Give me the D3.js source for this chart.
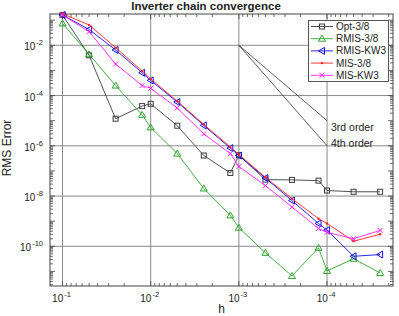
<!DOCTYPE html>
<html>
<head>
<meta charset="utf-8">
<script src="https://cdn.jsdelivr.net/npm/d3@7"></script>
<style>
  body { margin: 0; background: #fff; }
  text { font-family: "Liberation Sans", Arial, sans-serif; fill: #222; }
</style>
</head>
<body>
<svg id="chart" width="399" height="316"></svg>
<script>
// step sizes
const hVals = [0.1, 0.05, 0.025, 0.0125, 0.01, 0.005, 0.0025, 0.00125, 0.001, 5e-4, 2.5e-4, 1.25e-4, 1e-4, 5e-5, 2.5e-5];

// RMS errors per method
const optErr   = [1.6e-1, 4.0e-3, 1.2e-5, 3.8e-5, 4.7e-5, 6.3e-6, 4.1e-7, 8.3e-8, 4.2e-7, 4.5e-8, 4.4e-8, 4.1e-8, 1.66e-8, 1.48e-8, 1.48e-8];
const rmis38   = [7.4e-2, 4.4e-3, 2.5e-4, 1.7e-5, 5.4e-6, 4.9e-7, 2.0e-8, 1.7e-9, 5.5e-10, 5.5e-11, 6.6e-12, 8.7e-11, 1.05e-11, 3.2e-11, 8.7e-12];
const rmisKW3  = [1.6e-1, 4.3e-2, 6.5e-3, 8.1e-4, 4.0e-4, 5.5e-5, 6.5e-6, 8.1e-7, 4.1e-7, 5.2e-8, 6.6e-9, 8.1e-10, 4.4e-10, 4.0e-11, 4.7e-11];
const mis38    = [1.8e-1, 6.5e-2, 8.1e-3, 9.5e-4, 4.6e-4, 6.0e-5, 7.1e-6, 8.9e-7, 4.5e-7, 5.6e-8, 7.9e-9, 1.26e-9, 8.1e-10, 1.6e-10, 3.0e-10];
const misKW3   = [1.6e-1, 3.5e-2, 1.8e-3, 2.5e-4, 1.95e-4, 3.2e-5, 3.0e-6, 4.9e-7, 1.5e-7, 2.6e-8, 3.7e-9, 5.1e-10, 3.6e-10, 2.0e-10, 4.3e-10];

const seriesNames = ["Opt-3/8", "RMIS-3/8", "RMIS-KW3", "MIS-3/8", "MIS-KW3"];
const xTickVals = [1e-1, 1e-2, 1e-3, 1e-4];
const yTickVals = [1e-2, 1e-4, 1e-6, 1e-8, 1e-10];

// reference slopes, anchored at h=1e-3, err=1e-2
const orderLabels = ["3rd order", "4th order"];
const orderPowers = [3, 4];

const svg = d3.select("#chart");
const pLeft = 50, pRight = 393, pTop = 14, pBottom = 286;

const x = d3.scaleLog()
    .domain([Math.pow(10, -0.858), Math.pow(10, -4.748)])
    .range([pLeft, pRight]);
const y = d3.scaleLog()
    .domain([Math.pow(10, -11.58), Math.pow(10, -0.754)])
    .range([pBottom, pTop]);

// grid
svg.append("g").selectAll("line").data(xTickVals).join("line")
    .attr("x1", d => x(d)).attr("x2", d => x(d))
    .attr("y1", pTop).attr("y2", pBottom)
    .attr("stroke", "#8a8a8a").attr("stroke-width", 1);
svg.append("g").selectAll("line").data(yTickVals).join("line")
    .attr("x1", pLeft).attr("x2", pRight)
    .attr("y1", d => y(d)).attr("y2", d => y(d))
    .attr("stroke", "#8a8a8a").attr("stroke-width", 1);

// minor ticks, all four sides, pointing in
function logTicks(scale) {
  const [a, b] = d3.extent(scale.domain());
  const out = [];
  for (let e = Math.floor(Math.log10(a)); e <= Math.ceil(Math.log10(b)); e++) {
    for (let k = 1; k < 10; k++) {
      const v = k * Math.pow(10, e);
      if (v >= a && v <= b) out.push({v: v, major: k === 1});
    }
  }
  return out;
}
const tg = svg.append("g").attr("stroke", "#444").attr("stroke-width", 0.8);
logTicks(x).forEach(t => {
  const len = t.major ? 5 : 3;
  tg.append("line").attr("x1", x(t.v)).attr("x2", x(t.v)).attr("y1", pBottom).attr("y2", pBottom - len);
  tg.append("line").attr("x1", x(t.v)).attr("x2", x(t.v)).attr("y1", pTop).attr("y2", pTop + len);
});
logTicks(y).forEach(t => {
  const len = t.major ? 5 : 3;
  tg.append("line").attr("y1", y(t.v)).attr("y2", y(t.v)).attr("x1", pLeft).attr("x2", pLeft + len);
  tg.append("line").attr("y1", y(t.v)).attr("y2", y(t.v)).attr("x1", pRight).attr("x2", pRight - len);
});

// frame
svg.append("rect")
    .attr("x", pLeft).attr("y", pTop)
    .attr("width", pRight - pLeft).attr("height", pBottom - pTop)
    .attr("fill", "none").attr("stroke", "#444").attr("stroke-width", 1);

// tick labels
const xl = svg.append("g").selectAll("text").data(xTickVals).join("text")
    .attr("x", d => x(d) - 1).attr("y", 302)
    .attr("text-anchor", "middle").attr("font-size", 10);
xl.append("tspan").text("10");
xl.append("tspan").attr("dx", 1).attr("dy", -5).attr("font-size", 7.5)
    .text(d => Math.round(Math.log10(d)));

const yl = svg.append("g").selectAll("text").data(yTickVals).join("text")
    .attr("x", 43).attr("y", d => y(d) + 5)
    .attr("text-anchor", "end").attr("font-size", 10);
yl.append("tspan").text("10");
yl.append("tspan").attr("dx", 1).attr("dy", -5).attr("font-size", 7.5)
    .text(d => Math.round(Math.log10(d)));

// labels
svg.append("text").attr("x", 206).attr("y", 10)
    .attr("text-anchor", "middle").attr("font-size", 11.5).attr("font-weight", "bold")
    .text("Inverter chain convergence");
svg.append("text").attr("x", (pLeft + pRight) / 2).attr("y", 313)
    .attr("text-anchor", "middle").attr("font-size", 12).text("h");
svg.append("text").attr("transform", `translate(11,${(pTop + pBottom) / 2 - 2}) rotate(-90)`)
    .attr("text-anchor", "middle").attr("font-size", 12).text("RMS Error");

// order lines
const og = svg.append("g");
orderPowers.forEach((p, i) => {
  og.append("line")
      .attr("x1", x(1e-3)).attr("y1", y(1e-2))
      .attr("x2", x(1e-4)).attr("y2", y(1e-2 * Math.pow(10, -p)))
      .attr("stroke", "#333").attr("stroke-width", 0.8);
  og.append("text")
      .attr("x", x(1e-4) + 4).attr("y", y(1e-2 * Math.pow(10, -p)) + 10 - i * 9)
      .attr("font-size", 10.5).text(orderLabels[i]);
});

// series
const colors = ["#3c3c3c", "#2fa32f", "#1010ee", "#ff2020", "#ff20ff"];
const markers = ["square", "triUp", "triLeft", "dot", "cross"];
const allErr = [optErr, rmis38, rmisKW3, mis38, misKW3];

function drawMarker(g, kind, cx, cy, col) {
  if (kind === "square") {
    g.append("rect").attr("x", cx - 2.5).attr("y", cy - 2.5).attr("width", 5).attr("height", 5)
        .attr("fill", "none").attr("stroke", col).attr("stroke-width", 1);
  } else if (kind === "triUp") {
    g.append("path").attr("d", `M${cx},${cy - 3.5}L${cx + 3.5},${cy + 2.5}L${cx - 3.5},${cy + 2.5}Z`)
        .attr("fill", "none").attr("stroke", col).attr("stroke-width", 1);
  } else if (kind === "triLeft") {
    g.append("path").attr("d", `M${cx - 3.5},${cy}L${cx + 2.5},${cy - 3.5}L${cx + 2.5},${cy + 3.5}Z`)
        .attr("fill", "none").attr("stroke", col).attr("stroke-width", 1);
  } else if (kind === "dot") {
    g.append("circle").attr("cx", cx).attr("cy", cy).attr("r", 1.2).attr("fill", col);
  } else {
    g.append("path").attr("d", `M${cx - 2.5},${cy - 2.5}L${cx + 2.5},${cy + 2.5}M${cx - 2.5},${cy + 2.5}L${cx + 2.5},${cy - 2.5}`)
        .attr("stroke", col).attr("stroke-width", 1);
  }
}

const line = d3.line().x(d => x(d[0])).y(d => y(d[1]));
allErr.forEach((errs, i) => {
  const pts = hVals.map((h, j) => [h, errs[j]]);
  const g = svg.append("g");
  g.append("path").attr("d", line(pts))
      .attr("fill", "none").attr("stroke", colors[i]).attr("stroke-width", 0.9);
  pts.forEach(p => drawMarker(g, markers[i], x(p[0]), y(p[1]), colors[i]));
});

// legend
const lg = svg.append("g");
lg.append("rect").attr("x", 308.5).attr("y", 20.5).attr("width", 80).attr("height", 61)
    .attr("fill", "#fff").attr("stroke", "#555").attr("stroke-width", 1);
seriesNames.forEach((name, i) => {
  const ry = 26.5 + i * 12.2;
  lg.append("line").attr("x1", 311).attr("x2", 333).attr("y1", ry).attr("y2", ry)
      .attr("stroke", colors[i]).attr("stroke-width", 0.9);
  drawMarker(lg, markers[i], 322, ry, colors[i]);
  lg.append("text").attr("x", 336).attr("y", ry + 3.5).attr("font-size", 10).text(name);
});
</script>
</body>
</html>
